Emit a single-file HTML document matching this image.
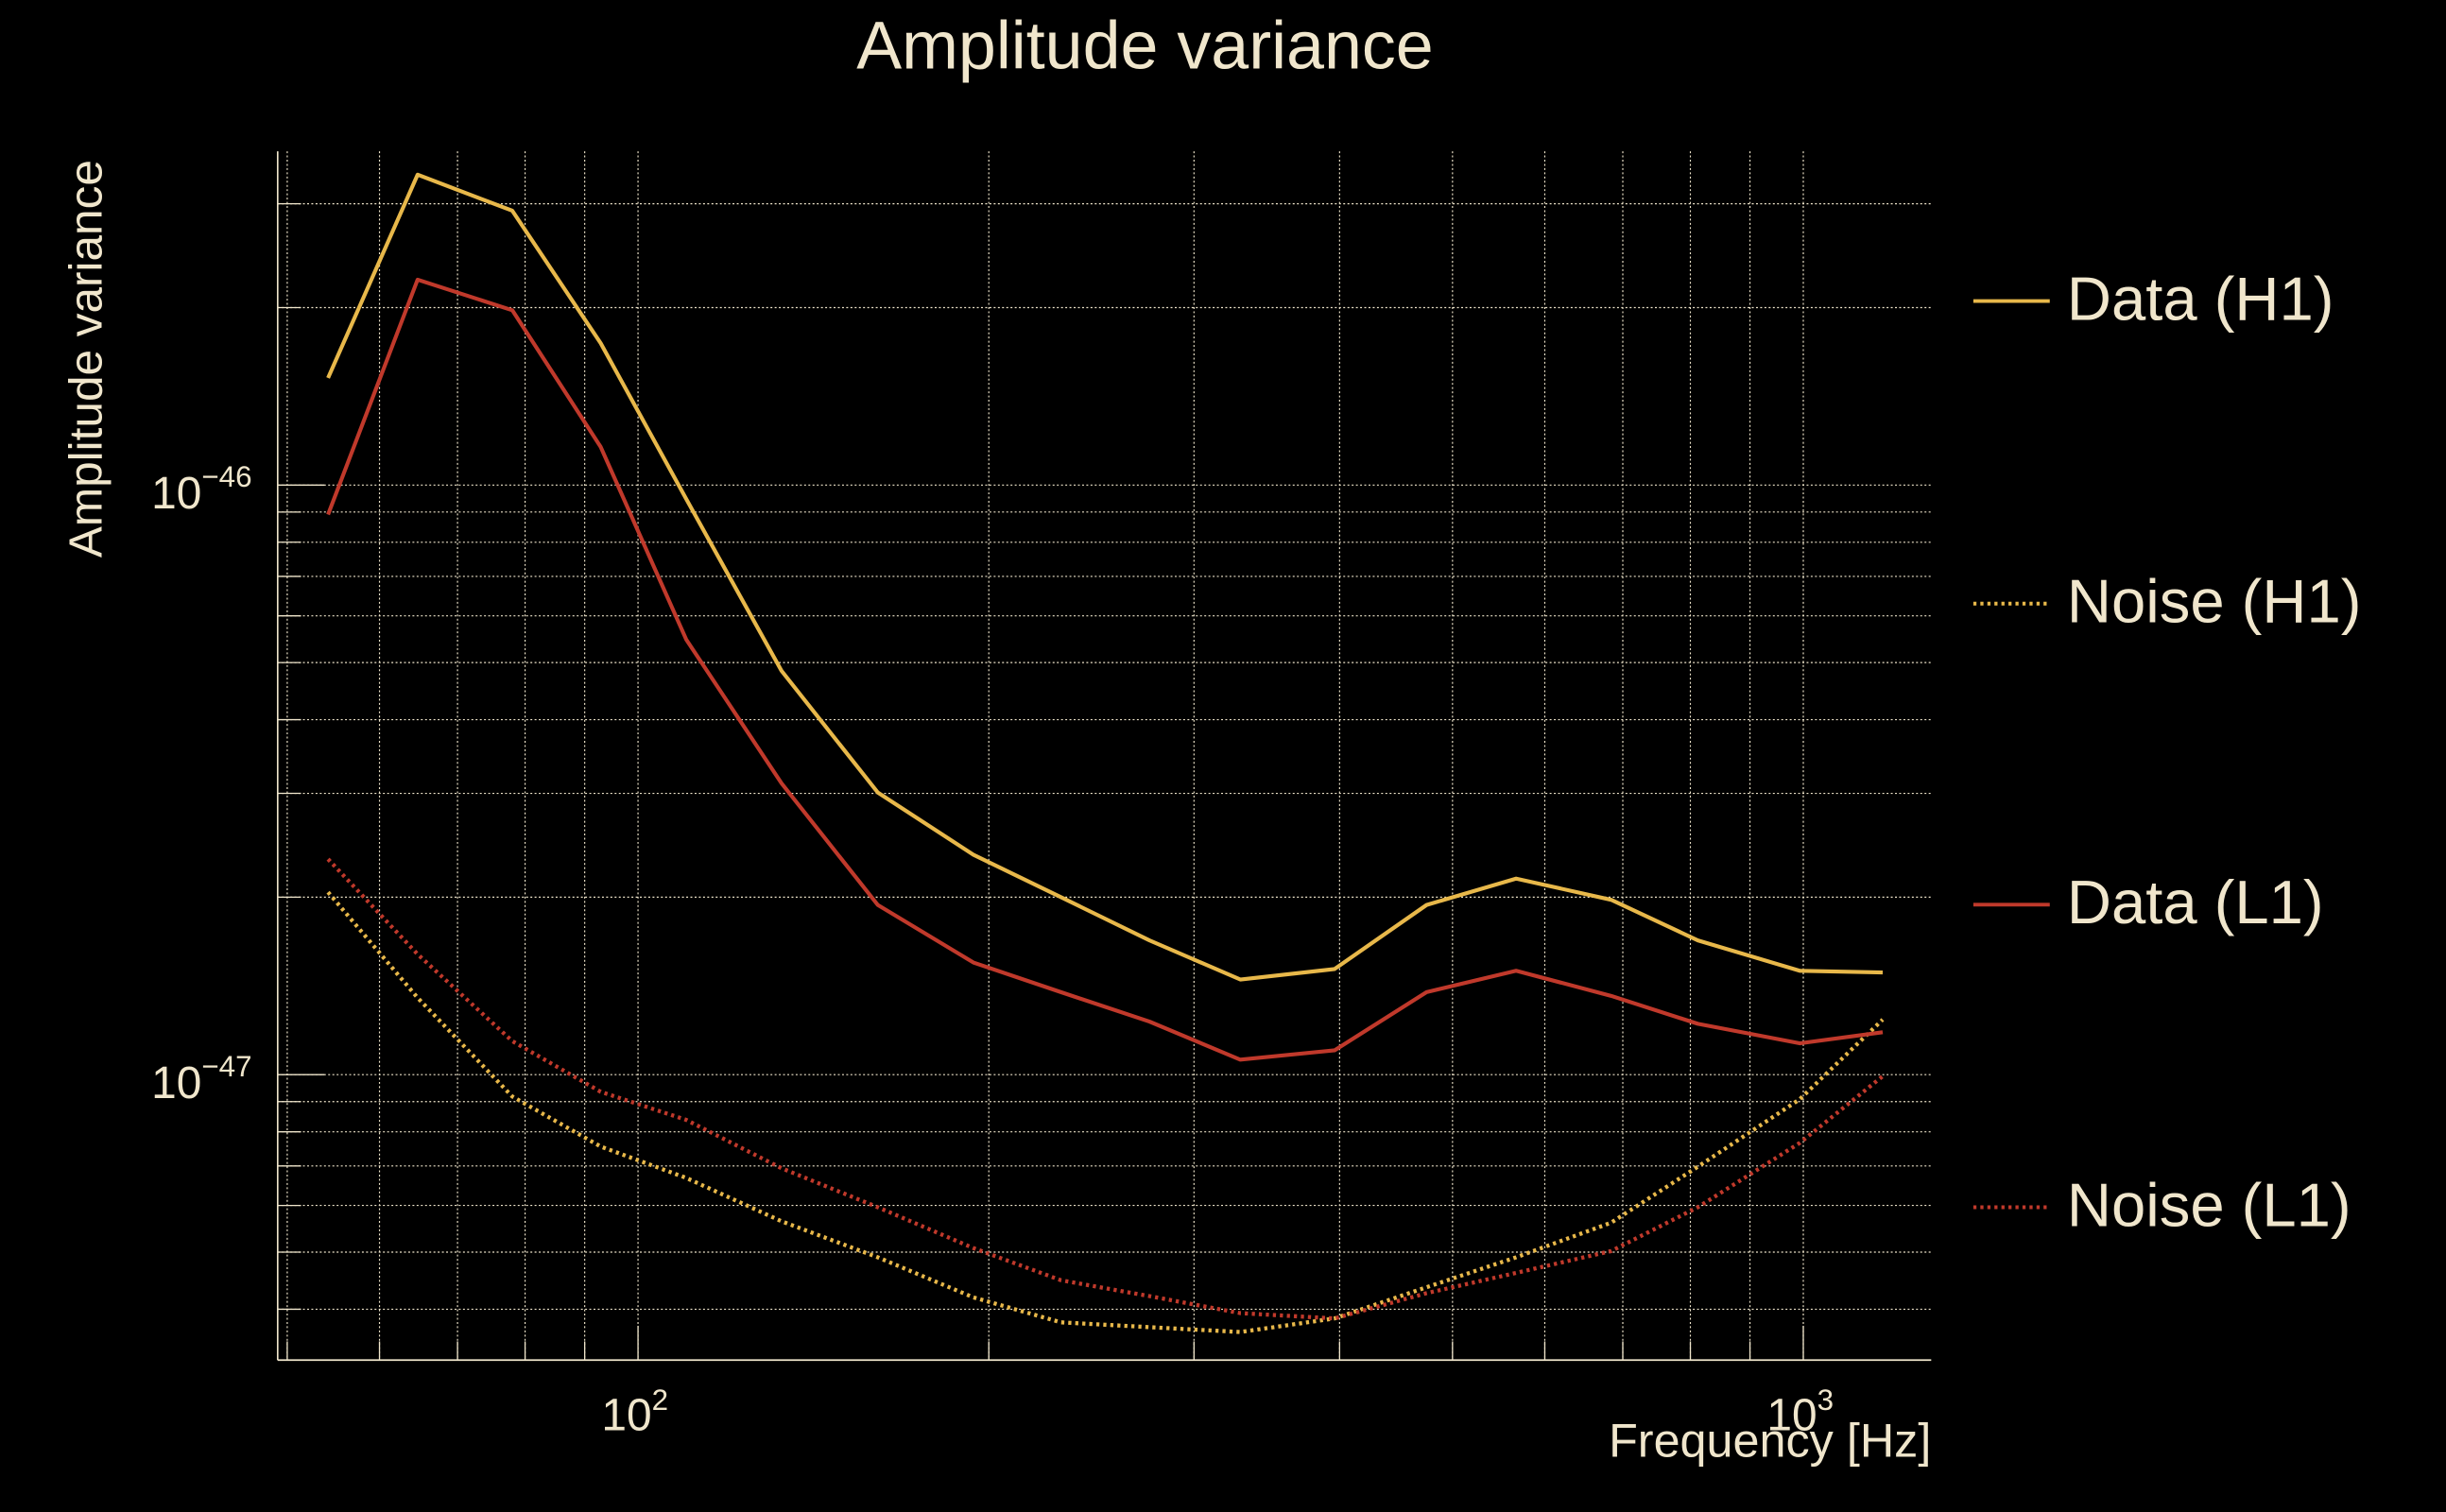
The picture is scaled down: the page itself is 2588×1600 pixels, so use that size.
<!DOCTYPE html>
<html><head><meta charset="utf-8"><style>
html,body{margin:0;padding:0;background:#000;}
svg{display:block;font-family:"Liberation Sans",sans-serif;}
</style></head><body>
<svg id="chart" width="2588" height="1600" viewBox="0 0 1568 969.4" xmlns="http://www.w3.org/2000/svg">
<rect width="1568" height="969.4" fill="#000"/>
<text x="734" y="44" text-anchor="middle" font-size="43.5" fill="#f0e6cc">Amplitude variance</text>
<g id="grid"></g>
<g id="series"></g>
<g id="axes"></g>
<text transform="translate(65,230) rotate(-90)" text-anchor="middle" font-size="30" fill="#f0e6cc">Amplitude variance</text>
<text x="1238" y="934" text-anchor="end" font-size="30.5" fill="#f0e6cc">Frequency [Hz]</text>
<g id="legend"></g>
</svg>
<script>
const freqs = [54.2,64.7,78,92.9,110,132.8,160.6,194,230.6,274.8,328.8,396,475,567,684,812,993,1170];
// values in units of 1e-47
const dataH1 = [15.2,33.6,29.2,17.4,9.47,4.84,3.01,2.36,2.00,1.69,1.45,1.51,1.94,2.15,1.98,1.69,1.50,1.49];
const dataL1 = [8.91,22.3,19.8,11.6,5.47,3.12,1.94,1.55,1.38,1.23,1.06,1.10,1.38,1.50,1.36,1.22,1.13,1.18];
const noiseH1 = [2.04,1.35,0.918,0.755,0.668,0.564,0.490,0.419,0.380,0.373,0.366,0.386,0.436,0.490,0.561,0.698,0.908,1.24];
const noiseL1 = [2.32,1.60,1.14,0.935,0.838,0.694,0.596,0.508,0.448,0.421,0.394,0.386,0.426,0.461,0.502,0.596,0.766,0.994];
const seriesNames = ["Data (H1)","Noise (H1)","Data (L1)","Noise (L1)"];
const UNIT = 1e-47;

const NS="http://www.w3.org/2000/svg";
const L=178,R=1238,T=97,B=872;
function xs(f){return 409+747*(Math.log10(f)-2);}
function ys(v){return 311-378*(Math.log10(v*UNIT)+46);}
function mk(tag,attrs,parent){const e=document.createElementNS(NS,tag);for(const k in attrs)e.setAttribute(k,attrs[k]);parent.appendChild(e);return e;}
const grid=document.getElementById('grid'),axes=document.getElementById('axes'),ser=document.getElementById('series'),leg=document.getElementById('legend');
const C="#f0e6cc";
const xt=[50,60,70,80,90,100,200,300,400,500,600,700,800,900,1000];
xt.forEach(f=>{const x=xs(f);
 const g=mk('line',{x1:x,x2:x,y1:T,y2:B,stroke:C,'stroke-width':0.7,'stroke-dasharray':'1.2 1.5'},grid);
 
 const major=(f===100||f===1000);
 const t=mk('line',{x1:x,x2:x,y1:B,y2:B-(major?22:12),stroke:C,'stroke-width':0.8},axes);
 
});
const yt=[];for(let e=-48;e<=-46;e++)for(let m=1;m<10;m++){const v=m*Math.pow(10,e)/UNIT;const y=ys(v);if(y>=T&&y<=B)yt.push([v,m===1]);}
yt.forEach(([v,major])=>{const y=ys(v);
 const g=mk('line',{x1:L,x2:R,y1:y,y2:y,stroke:C,'stroke-width':0.7,'stroke-dasharray':'1.2 1.5'},grid);
 
 const t=mk('line',{x1:L,x2:L+(major?30:15),y1:y,y2:y,stroke:C,'stroke-width':0.8},axes);
 
});
const sp1=mk('line',{x1:L,x2:L,y1:T,y2:B,stroke:C,'stroke-width':1},axes);

const sp2=mk('line',{x1:L,x2:R,y1:B,y2:B,stroke:C,'stroke-width':1},axes);

const xLabels=[[100,"2"],[1000,"3"]];
xLabels.forEach(([f,e])=>{const t=mk('text',{x:xs(f)-2,y:917,'text-anchor':'middle','font-size':29,fill:C},axes);
 
 t.innerHTML='10<tspan dy="-13" font-size="19">'+e+'</tspan>';});
const yLabels=[[10,"\u221246"],[1,"\u221247"]];
yLabels.forEach(([v,e])=>{const t=mk('text',{x:97,y:ys(v)+15,'font-size':29,fill:C},axes);
 
 t.innerHTML='10<tspan dy="-14" font-size="19">'+e+'</tspan>';});
const YEL="#e8b84a",RED="#c0392b";
const defs=[[dataH1,YEL,null,'series-data-h1'],[noiseH1,YEL,'2 2.5','series-noise-h1'],[dataL1,RED,null,'series-data-l1'],[noiseL1,RED,'2 2.5','series-noise-l1']];
defs.forEach(([arr,col,dash,name],i)=>{
 const pts=arr.map((v,j)=>xs(freqs[j]).toFixed(1)+','+ys(v).toFixed(1)).join(' ');
 const a={points:pts,fill:'none',stroke:col,'stroke-width':dash?2.6:2.5,'stroke-linejoin':'round'};if(dash)a['stroke-dasharray']=dash;
 const p=mk('polyline',a,ser);
 
 const ly=[193,387,580,774][i];
 const la={x1:1265,x2:1314,y1:ly,y2:ly,stroke:col,'stroke-width':2.4};if(dash)la['stroke-dasharray']=dash;
 const ll=mk('line',la,leg);
 
 const lt=mk('text',{x:1325,y:ly+12,'font-size':39.5,fill:C},leg);
 
 lt.textContent=seriesNames[i];
});
</script>
</body></html>
